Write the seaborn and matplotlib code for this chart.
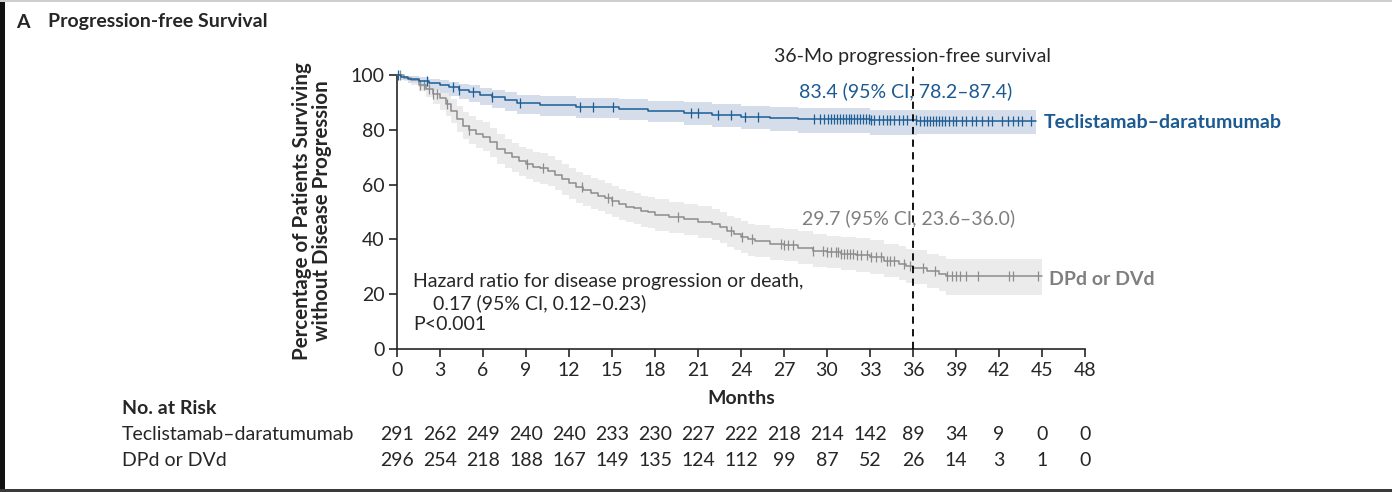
import numpy as np
import matplotlib
matplotlib.use("Agg")
import matplotlib.pyplot as plt
import matplotlib.transforms as mtrans
from matplotlib.patches import Rectangle
import seaborn as sns

sns.set_style("ticks")
plt.rcParams['font.family'] = ['Lato', 'DejaVu Sans']

# --- dati ---
# Teclistamab-daratumumab (KM, % senza progressione)
tec_t = [0, 0.3, 0.8, 1.5, 2.2, 3.0, 3.6, 4.3, 5.0, 5.8, 6.6, 7.5, 8.4, 10.0, 12.5, 15.5,
         17.5, 20.0, 22.0, 24.0, 26.0, 28.0, 33.0, 36.3, 44.6]
tec_s = [100, 99.3, 98.6, 97.9, 97.2, 96.5, 95.5, 94.5, 93.8, 92.8, 91.8, 90.7, 89.6, 89.0, 88.3, 87.6,
         87.0, 86.2, 85.5, 84.8, 84.2, 83.8, 83.4, 83.1, 83.1]
tec_lo = [100, 98.2, 97.0, 95.8, 94.6, 93.6, 92.3, 91.2, 90.3, 89.1, 88.0, 86.8, 85.6, 85.0, 84.2, 83.4,
          82.7, 81.8, 81.0, 80.2, 79.5, 79.0, 78.2, 78.4, 78.4]
tec_hi = [100, 99.8, 99.5, 99.1, 98.7, 98.2, 97.5, 96.8, 96.2, 95.4, 94.6, 93.7, 92.8, 92.3, 91.7, 91.2,
          90.6, 90.0, 89.4, 88.8, 88.3, 87.9, 87.4, 87.1, 87.1]
tec_cens = [0.1, 2.1, 3.9, 4.3, 5.3, 6.6, 8.6, 12.8, 13.7, 15.1, 20.5, 21.0, 22.4, 23.3, 24.3, 25.2,
            29.1, 29.5, 29.8, 30.1, 30.3, 30.5, 30.7, 30.9, 31.1, 31.3, 31.5, 31.7, 31.9, 32.1, 32.3,
            32.5, 32.7, 32.9, 33.1, 33.3, 33.6, 33.9, 34.2, 34.4, 34.7, 35.0, 35.3, 35.6, 36.2, 36.5,
            36.8, 37.0, 37.2, 37.4, 37.6, 37.8, 38.0, 38.2, 38.5, 38.8, 39.0, 39.4, 39.7, 40.1, 40.4,
            40.8, 41.2, 41.5, 42.2, 42.6, 43.0, 43.3, 43.6, 44.2]

# DPd or DVd
dpd_t = [0, 0.5, 1.0, 1.5, 2.0, 2.5, 3.0, 3.4, 3.8, 4.2, 4.6, 5.0, 5.5, 6.0, 6.5, 7.0, 7.5, 8.0,
         8.5, 9.0, 9.5, 10.0, 10.5, 11.0, 11.5, 12.0, 12.5, 13.0, 13.5, 14.0, 14.5, 15.0, 15.5, 16.0,
         16.5, 17.0, 17.5, 18.0, 19.0, 20.0, 21.0, 22.0, 22.5, 23.0, 23.5, 24.0, 24.5, 25.0, 26.0,
         27.0, 28.0, 29.0, 30.0, 31.0, 32.0, 33.0, 34.0, 35.0, 35.5, 36.0, 37.0, 37.8, 38.3, 45.0]
dpd_s = [100, 99, 98, 96.5, 95, 93, 91.5, 89.5, 87, 84, 81.5, 80, 78.5, 77.5, 75.5, 73, 71.5, 70,
         68.5, 67.5, 66.5, 66, 65, 63.5, 62, 60.5, 59, 58, 57, 56, 55, 54, 53, 52,
         51.5, 50.5, 50, 49, 48, 47.5, 46.5, 45.5, 44.5, 43, 42, 41, 40, 39.5, 38.5,
         38, 37, 35.8, 35.3, 34.8, 34.3, 33.5, 32.2, 31.2, 30.3, 29.7, 28.5, 27.5, 26.8, 26.8]
dpd_lo = [100, 97.8, 96.2, 94.0, 91.8, 89.3, 87.3, 85.0, 82.3, 79.2, 76.6, 75.0, 73.4, 72.3, 70.2, 67.7,
          66.1, 64.6, 63.0, 62.0, 61.0, 60.4, 59.4, 57.9, 56.3, 54.8, 53.2, 52.2, 51.2, 50.2, 49.2,
          48.2, 47.2, 46.2, 45.7, 44.7, 44.2, 43.2, 42.2, 41.6, 40.6, 39.6, 38.6, 37.1, 36.1, 35.1,
          34.1, 33.6, 32.6, 32.1, 31.1, 29.9, 29.4, 28.8, 28.2, 27.4, 26.1, 25.1, 24.2, 23.6, 22.2,
          21.0, 19.8, 19.8]
dpd_hi = [100, 99.6, 99.2, 98.5, 97.6, 96.2, 95.1, 93.5, 91.4, 88.8, 86.5, 85.0, 83.6, 82.7, 80.7, 78.3,
          76.8, 75.3, 73.9, 72.9, 71.9, 71.4, 70.4, 68.9, 67.5, 66.0, 64.5, 63.5, 62.5, 61.5, 60.5,
          59.5, 58.5, 57.5, 57.0, 56.0, 55.5, 54.6, 53.6, 53.1, 52.1, 51.1, 50.1, 48.7, 47.7, 46.7,
          45.8, 45.3, 44.3, 43.9, 42.9, 41.8, 41.4, 40.9, 40.4, 39.7, 38.5, 37.5, 36.6, 36.0, 34.8,
          33.8, 33.0, 33.0]
dpd_cens = [0.2, 1.6, 1.9, 2.2, 2.5, 2.8, 3.5, 5.0, 9.1, 10.2, 12.9, 14.7, 15.0, 19.6, 23.3, 24.1,
            24.8, 26.8, 27.0, 27.3, 27.6, 29.0, 29.7, 30.0, 30.3, 30.6, 30.8, 31.0, 31.2, 31.4, 31.6,
            31.8, 32.1, 32.4, 32.8, 33.1, 33.4, 33.8, 34.2, 34.4, 34.7, 35.4, 35.8, 36.7, 37.5, 38.4,
            38.7, 39.0, 39.3, 39.7, 40.5, 42.7, 43.0, 44.7]

# Numero a rischio
risk_months = list(range(0, 49, 3))
risk_tec = [291, 262, 249, 240, 240, 233, 230, 227, 222, 218, 214, 142, 89, 34, 9, 0, 0]
risk_dpd = [296, 254, 218, 188, 167, 149, 135, 124, 112, 99, 87, 52, 26, 14, 3, 1, 0]

BLUE = "#1d5e98"
BLUE_TXT = "#1b5a92"
BLUE_BAND = "#d4dde9"
GRAY = "#8c8c8c"
GRAY_TXT = "#7f7f7f"
GRAY_BAND = "#ebebeb"
FS = 14


def km_at(t, s, x):
    # valore della curva a gradini al tempo x
    idx = np.searchsorted(t, x, side="right") - 1
    return np.asarray(s)[idx]


fig = plt.figure(figsize=(13.92, 4.92), dpi=100)
ax = fig.add_axes([397 / 1392, 143 / 492, 688 / 1392, 274 / 492])

# bande CI
ax.fill_between(dpd_t, dpd_lo, dpd_hi, step="post", color=GRAY_BAND, lw=0, zorder=1)
ax.fill_between(tec_t, tec_lo, tec_hi, step="post", color=BLUE_BAND, lw=0, zorder=1)

# curve KM
sns.lineplot(x=dpd_t, y=dpd_s, drawstyle="steps-post", color=GRAY, lw=1.1, ax=ax,
             zorder=3, clip_on=False)
sns.lineplot(x=tec_t, y=tec_s, drawstyle="steps-post", color=BLUE, lw=1.1, ax=ax,
             zorder=4, clip_on=False)

# censure
sns.scatterplot(x=dpd_cens, y=km_at(dpd_t, dpd_s, dpd_cens), marker="|", s=45,
                linewidth=0.9, color=GRAY, ax=ax, zorder=3, clip_on=False)
sns.scatterplot(x=tec_cens, y=km_at(tec_t, tec_s, tec_cens), marker="|", s=45,
                linewidth=0.9, color=BLUE, ax=ax, zorder=4, clip_on=False)

# linea tratteggiata a 36 mesi
ax.plot([36, 36], [0, 103], color="black", lw=1.3, ls=(0, (4, 3)), clip_on=False, zorder=5)

ax.set_xlim(0, 48)
ax.set_ylim(0, 100)
ax.set_xticks(risk_months)
ax.set_yticks(range(0, 101, 20))
ax.tick_params(direction="out", length=6, width=1.2, labelsize=FS, pad=3)
sns.despine(ax=ax)
for sp in ["left", "bottom"]:
    ax.spines[sp].set_linewidth(1.2)
ax.set_xlabel("")
ax.set_ylabel("")

# testi
ax.text(36, 106.9, "36-Mo progression-free survival", ha="center", va="center",
        fontsize=FS, clip_on=False)
ax.text(35.5, 94.2, "83.4 (95% CI, 78.2\u201387.4)", ha="center", va="center",
        fontsize=FS, color=BLUE_TXT)
ax.text(35.7, 47.8, "29.7 (95% CI, 23.6\u201336.0)", ha="center", va="center",
        fontsize=FS, color=GRAY_TXT)
ax.text(45.1, 82.5, "Teclistamab\u2013daratumumab", ha="left", va="center",
        fontsize=FS, fontweight="bold", color=BLUE_TXT, clip_on=False)
ax.text(45.5, 25.5, "DPd or DVd", ha="left", va="center",
        fontsize=FS, fontweight="bold", color=GRAY_TXT, clip_on=False)
ax.text(1.1, 24.8, "Hazard ratio for disease progression or death,", ha="left", va="center",
        fontsize=FS)
ax.text(2.5, 16.8, "0.17 (95% CI, 0.12\u20130.23)", ha="left", va="center", fontsize=FS)
ax.text(1.1, 8.8, "P<0.001", ha="left", va="center", fontsize=FS)

fig.text(312 / 1392, 1 - 211 / 492,
         "Percentage of Patients Surviving\nwithout Disease Progression",
         rotation=90, ha="center", va="center", multialignment="center",
         fontsize=FS + 0.8, fontweight="bold", linespacing=1.0)

# titolo
fig.text(16 / 1392, 1 - 22 / 492, "A", ha="left", va="center", fontsize=FS, fontweight="bold")
fig.text(48 / 1392, 1 - 22 / 492, "Progression-free Survival", ha="left", va="center",
         fontsize=FS, fontweight="bold")

# tabella numero a rischio
bt = mtrans.blended_transform_factory(ax.transData, fig.transFigure)
ax.text(24, 1 - 399 / 492, "Months", transform=bt, ha="center", va="center",
        fontsize=FS, fontweight="bold")
fig.text(122 / 1392, 1 - 409 / 492, "No. at Risk", ha="left", va="center",
         fontsize=FS, fontweight="bold")
fig.text(122 / 1392, 1 - 435 / 492, "Teclistamab\u2013daratumumab", ha="left", va="center", fontsize=FS)
fig.text(122 / 1392, 1 - 460 / 492, "DPd or DVd", ha="left", va="center", fontsize=FS)
for m, a, b in zip(risk_months, risk_tec, risk_dpd):
    ax.text(m, 1 - 435 / 492, str(a), transform=bt, ha="center", va="center", fontsize=FS)
    ax.text(m, 1 - 460 / 492, str(b), transform=bt, ha="center", va="center", fontsize=FS)

# cornice
fig.add_artist(Rectangle((0, 0), 5 / 1392, 1, transform=fig.transFigure, color="#111111", lw=0))
fig.add_artist(Rectangle((0, 0), 1, 3 / 492, transform=fig.transFigure, color="#3a3a3a", lw=0))
fig.add_artist(Rectangle((0, 1 - 1.5 / 492), 1, 1.5 / 492, transform=fig.transFigure,
                         color="#cfcfcf", lw=0))

fig.savefig("out.png", dpi=100)
